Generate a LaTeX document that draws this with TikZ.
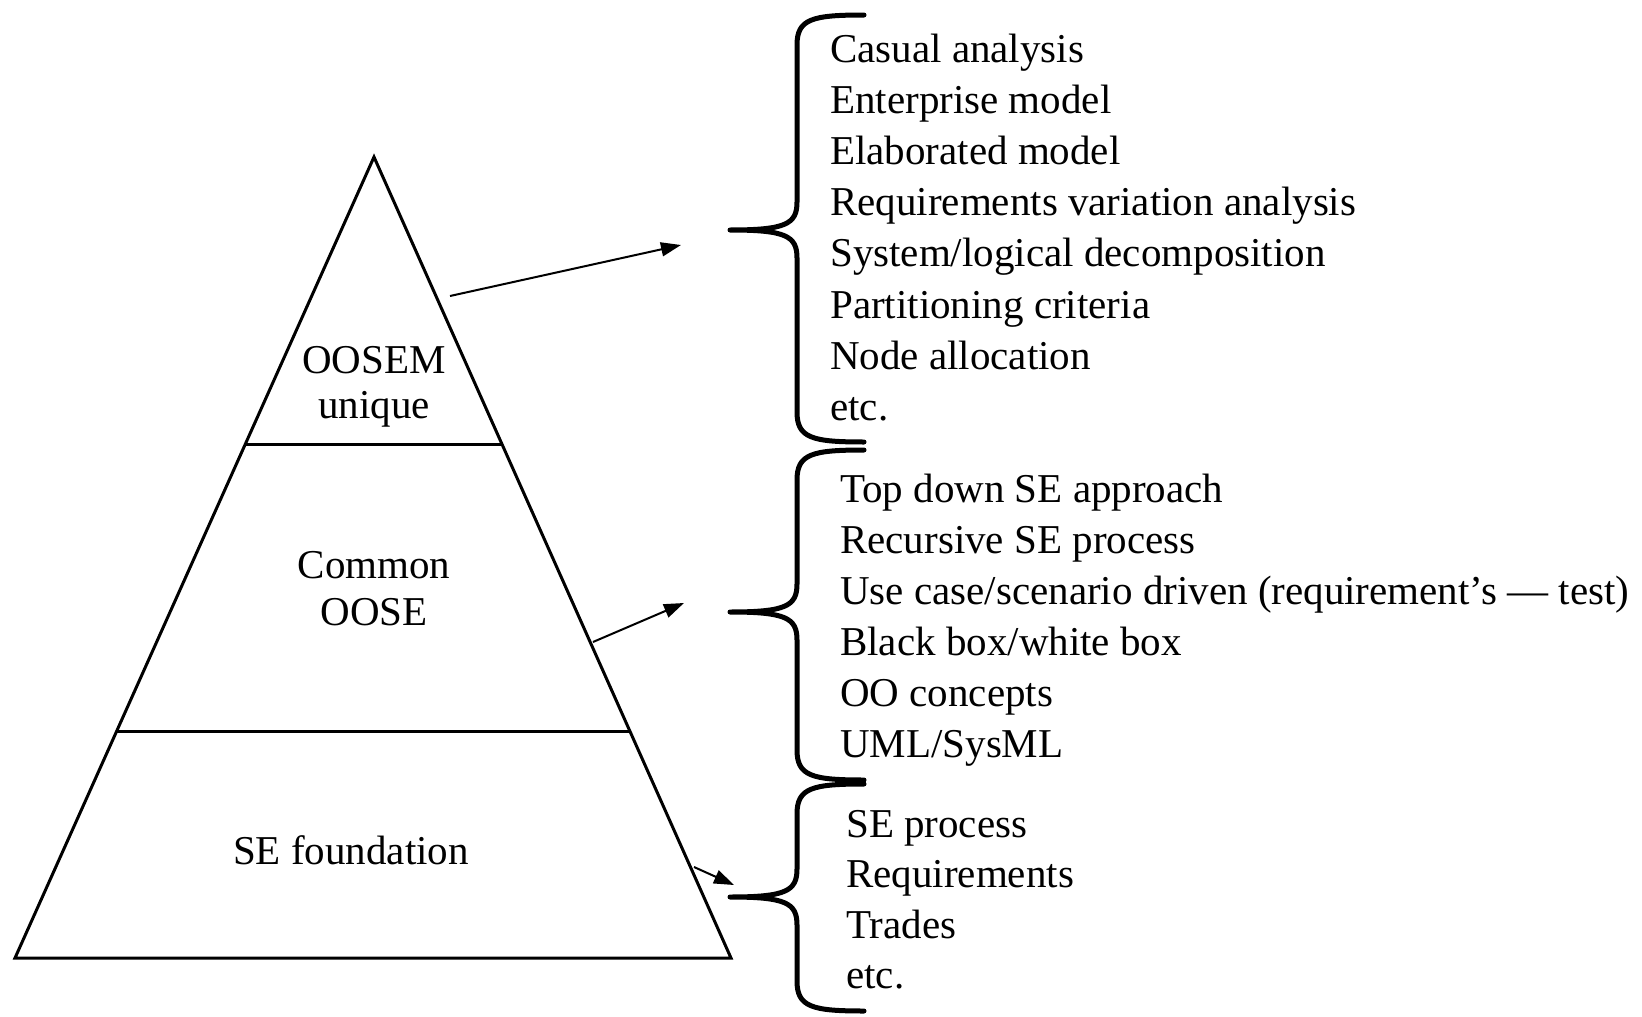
\documentclass[tikz,border=0pt]{standalone}
\usepackage{fontspec}
\setmainfont{Liberation Serif}
\usetikzlibrary{arrows.meta,calc}
\newcommand{\mybrace}[3]{%
  \draw[bracestyle] (864,#1) .. controls (812,#1) and (797,#1+4) .. (797,#1+30)
    -- (797,#2-28) .. controls (797,#2-6) and (786,#2) .. (730,#2)
    .. controls (786,#2) and (797,#2+6) .. (797,#2+28)
    -- (797,#3-30) .. controls (797,#3-4) and (812,#3) .. (864,#3);}
\begin{document}
\begin{tikzpicture}[x=1pt,y=-1pt,
  lbl/.style={font=\fontsize{41}{46}\selectfont, inner sep=0pt, anchor=base},
  item/.style={font=\fontsize{41}{51}\selectfont, inner sep=0pt, anchor=base west},
  pyr/.style={line width=3pt},
  conn/.style={line width=2pt, -{Triangle[length=20pt,width=14pt]}},
  bracestyle/.style={line width=5pt, line join=round, line cap=round}]
\useasboundingbox[fill=white] (0,0) rectangle (1642,1017);

% pyramid
\coordinate (apex) at (374,157);
\coordinate (bl) at (15,958);
\coordinate (br) at (731,958);
\draw[pyr, line join=miter] (apex) -- (bl) -- (br) -- cycle;
\coordinate (d1l) at ($(apex)!0.3583!(bl)$);
\coordinate (d1r) at ($(apex)!0.3583!(br)$);
\coordinate (d2l) at ($(apex)!0.7166!(bl)$);
\coordinate (d2r) at ($(apex)!0.7166!(br)$);
\draw[pyr] (d1l) -- (d1r);
\draw[pyr] (d2l) -- (d2r);

\node[lbl] (oosem) at (374,373) {OOSEM};
\node[lbl] (unique) at (374,418) {unique};
\node[lbl] (common) at (374,578) {Common};
\node[lbl] (oose) at (374,625) {OOSE};
\node[lbl] (sef) at (351,864) {SE foundation};

% braces
\mybrace{15}{230}{442}
\mybrace{450}{612}{780}
\mybrace{784}{897}{1011}

% arrows
\coordinate (a1s) at (450,296);
\coordinate (a1e) at (681,245);
\coordinate (a2s) at (593,642);
\coordinate (a2e) at (684,603);
\coordinate (a3s) at (694,867);
\coordinate (a3e) at (734,885);
\draw[conn] (a1s) -- (a1e);
\draw[conn] (a2s) -- (a2e);
\draw[conn] (a3s) -- (a3e);

% list 1
\node[item] (u1) at (830,62) {Casual analysis};
\node[item] (u2) at (830,113.2) {Enterprise model};
\node[item] (u3) at (830,164.4) {Elaborated model};
\node[item] (u4) at (830,215.6) {Requirements variation analysis};
\node[item] (u5) at (830,266.8) {System/logical decomposition};
\node[item] (u6) at (830,318) {Partitioning criteria};
\node[item] (u7) at (830,369.2) {Node allocation};
\node[item] (u8) at (830,420.4) {etc.};

% list 2
\node[item] (c1) at (840,502) {Top down SE approach};
\node[item] (c2) at (840,553) {Recursive SE process};
\node[item] (c3) at (840,604) {Use case/scenario driven (requirement’s — test)};
\node[item] (c4) at (840,655) {Black box/white box};
\node[item] (c5) at (840,706) {OO concepts};
\node[item] (c6) at (840,757) {UML/SysML};

% list 3
\node[item] (f1) at (846,837) {SE process};
\node[item] (f2) at (846,887) {Requirements};
\node[item] (f3) at (846,938) {Trades};
\node[item] (f4) at (846,988) {etc.};
\end{tikzpicture}
\end{document}
